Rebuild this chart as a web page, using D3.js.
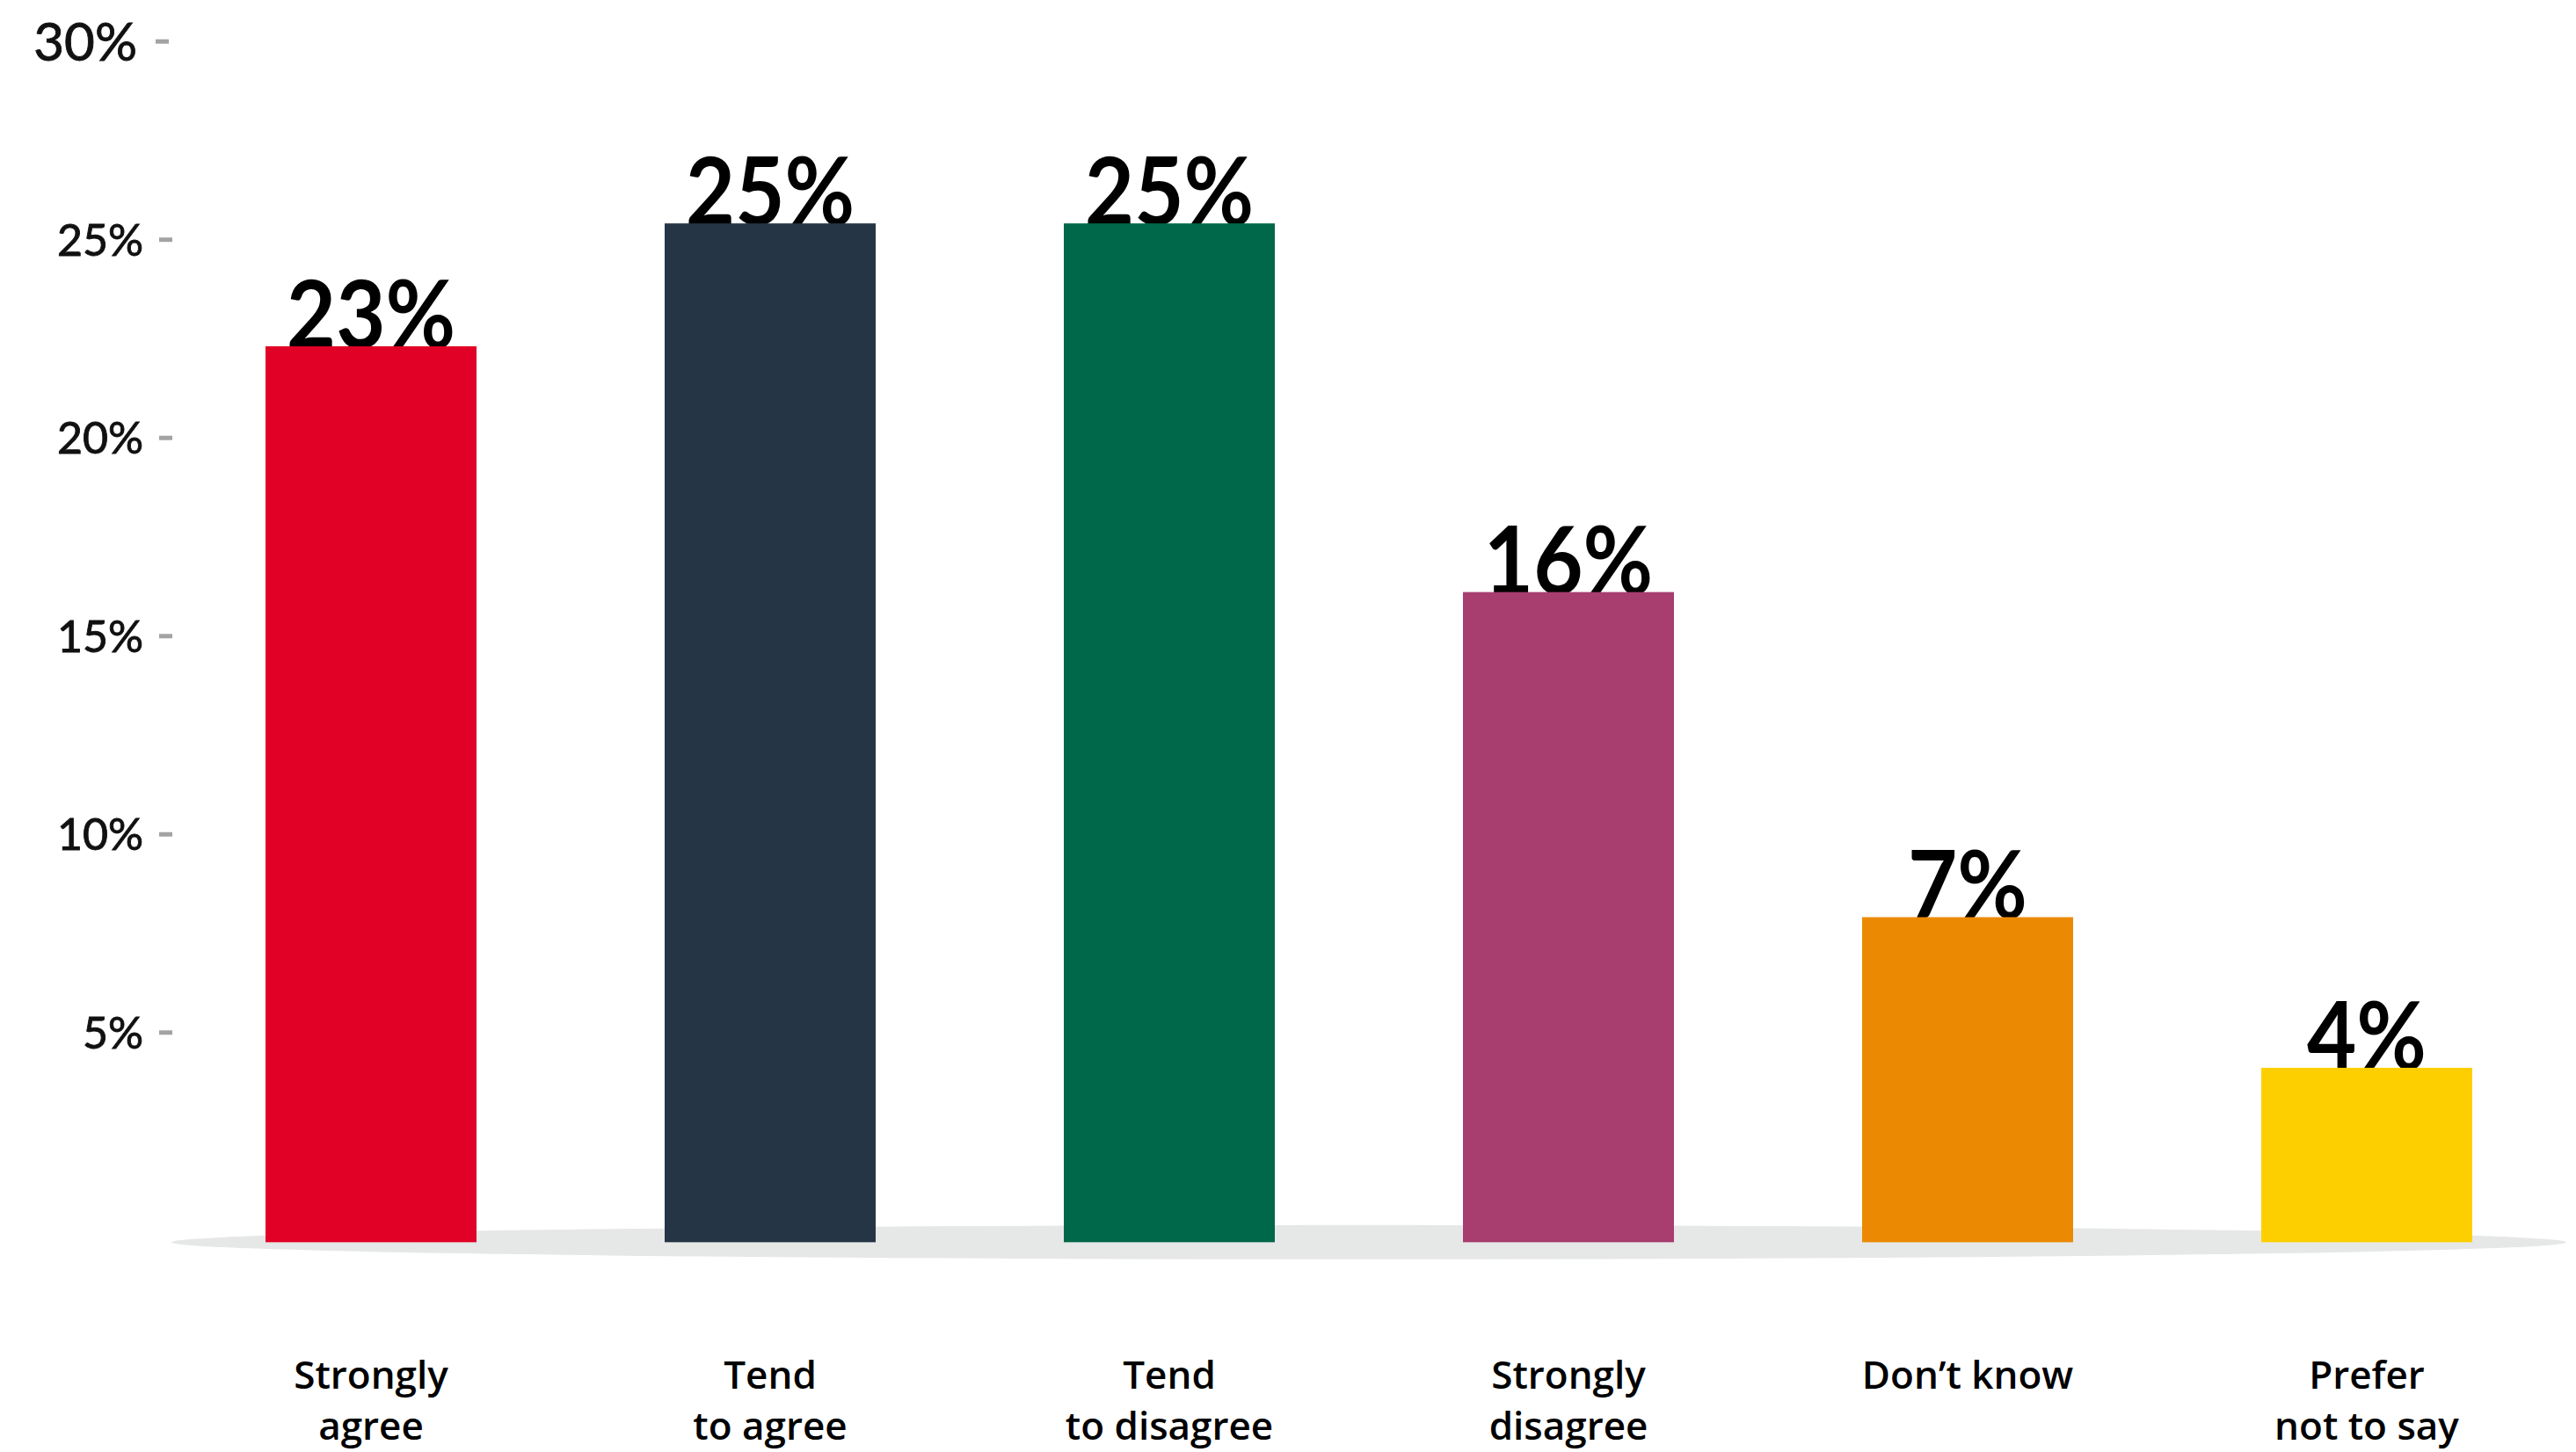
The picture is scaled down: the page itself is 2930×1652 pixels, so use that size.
<!DOCTYPE html>
<html>
<head>
<meta charset="utf-8">
<script src="https://cdn.jsdelivr.net/npm/d3@7"></script>
<style>
  html, body { margin: 0; padding: 0; background: #ffffff; }
  svg { display: block; }
</style>
</head>
<body>
<svg id="chart" width="2930" height="1652"></svg>
<script>
// ---- data ----
const categories = ["Strongly agree", "Tend to agree", "Tend to disagree", "Strongly disagree", "Don’t know", "Prefer not to say"];
const categoryLines = [["Strongly", "agree"], ["Tend", "to agree"], ["Tend", "to disagree"], ["Strongly", "disagree"], ["Don’t know"], ["Prefer", "not to say"]];
const values = [22.3, 25.4, 25.4, 16.1, 7.9, 4.1];
const valueLabels = ["23%", "25%", "25%", "16%", "7%", "4%"];
const barColors = ["#E10026", "#253546", "#00684A", "#A83D6F", "#EB8A02", "#FECF00"];
const yTicks = [5, 10, 15, 20, 25, 30];
const barBase = -0.3;

// ---- layout ----
const W = 2930, H = 1652;
const svg = d3.select("#chart");

const x = d3.scaleBand()
  .domain(categories)
  .range([195, 2919])
  .paddingInner(0.4714)
  .paddingOuter(0.2357);

const y = d3.scaleLinear()
  .domain([0, 30])
  .range([1399.8, 46.7]);

// floor shadow ellipse
const [r0, r1] = x.range();
svg.append("ellipse")
  .attr("cx", (r0 + r1) / 2)
  .attr("cy", y(barBase))
  .attr("rx", (r1 - r0) / 2)
  .attr("ry", 19.5)
  .attr("fill", "#E6E8E7");

// y axis
const yAxis = d3.axisLeft(y)
  .tickValues(yTicks)
  .tickSize(15)
  .tickPadding(18)
  .tickFormat(d => d + "%");

const gy = svg.append("g")
  .attr("transform", "translate(196,0)")
  .call(yAxis);
gy.select(".domain").remove();
gy.selectAll(".tick line")
  .attr("stroke", "#A3A3A3")
  .attr("stroke-width", 5);
gy.selectAll(".tick text")
  .attr("fill", "#111")
  .attr("stroke", "#111")
  .attr("stroke-width", 0.9)
  .style("font-family", "Lato, 'Open Sans', sans-serif")
  .style("font-size", d => d === 30 ? "60px" : "50px")
  .attr("dy", "0.36em");
gy.selectAll(".tick")
  .filter(d => d === 30)
  .select("text")
  .attr("x", -40);
gy.selectAll(".tick")
  .filter(d => d === 30)
  .select("line")
  .attr("transform", "translate(-4,0)");

// value labels (drawn before bars so bars overlap their base)
svg.append("g")
  .selectAll("g")
  .data(categories)
  .join("g")
  .attr("transform", (d, i) => `translate(${x(d) + x.bandwidth() / 2},${y(values[i]) + 2}) scale(0.9,1)`)
  .append("text")
  .attr("text-anchor", "middle")
  .style("font-family", "Lato, sans-serif")
  .style("font-weight", "bold")
  .style("font-size", "108px")
  .attr("fill", "#000")
  .text((d, i) => valueLabels[i]);

// bars
svg.append("g")
  .selectAll("rect")
  .data(categories)
  .join("rect")
  .attr("x", d => x(d))
  .attr("width", x.bandwidth())
  .attr("y", (d, i) => y(values[i]))
  .attr("height", (d, i) => y(barBase) - y(values[i]))
  .attr("fill", (d, i) => barColors[i]);

// x labels
const xl = svg.append("g")
  .selectAll("text")
  .data(categories)
  .join("text")
  .attr("text-anchor", "middle")
  .attr("x", d => x(d) + x.bandwidth() / 2)
  .attr("y", 1580)
  .style("font-family", "'Open Sans', Lato, sans-serif")
  .style("font-weight", "600")
  .style("font-size", "44px")
  .attr("fill", "#000");
xl.selectAll("tspan")
  .data((d, i) => categoryLines[i])
  .join("tspan")
  .attr("x", function () { return this.parentNode.getAttribute("x"); })
  .attr("dy", (d, j) => j === 0 ? 0 : 58)
  .text(d => d);
</script>
</body>
</html>
